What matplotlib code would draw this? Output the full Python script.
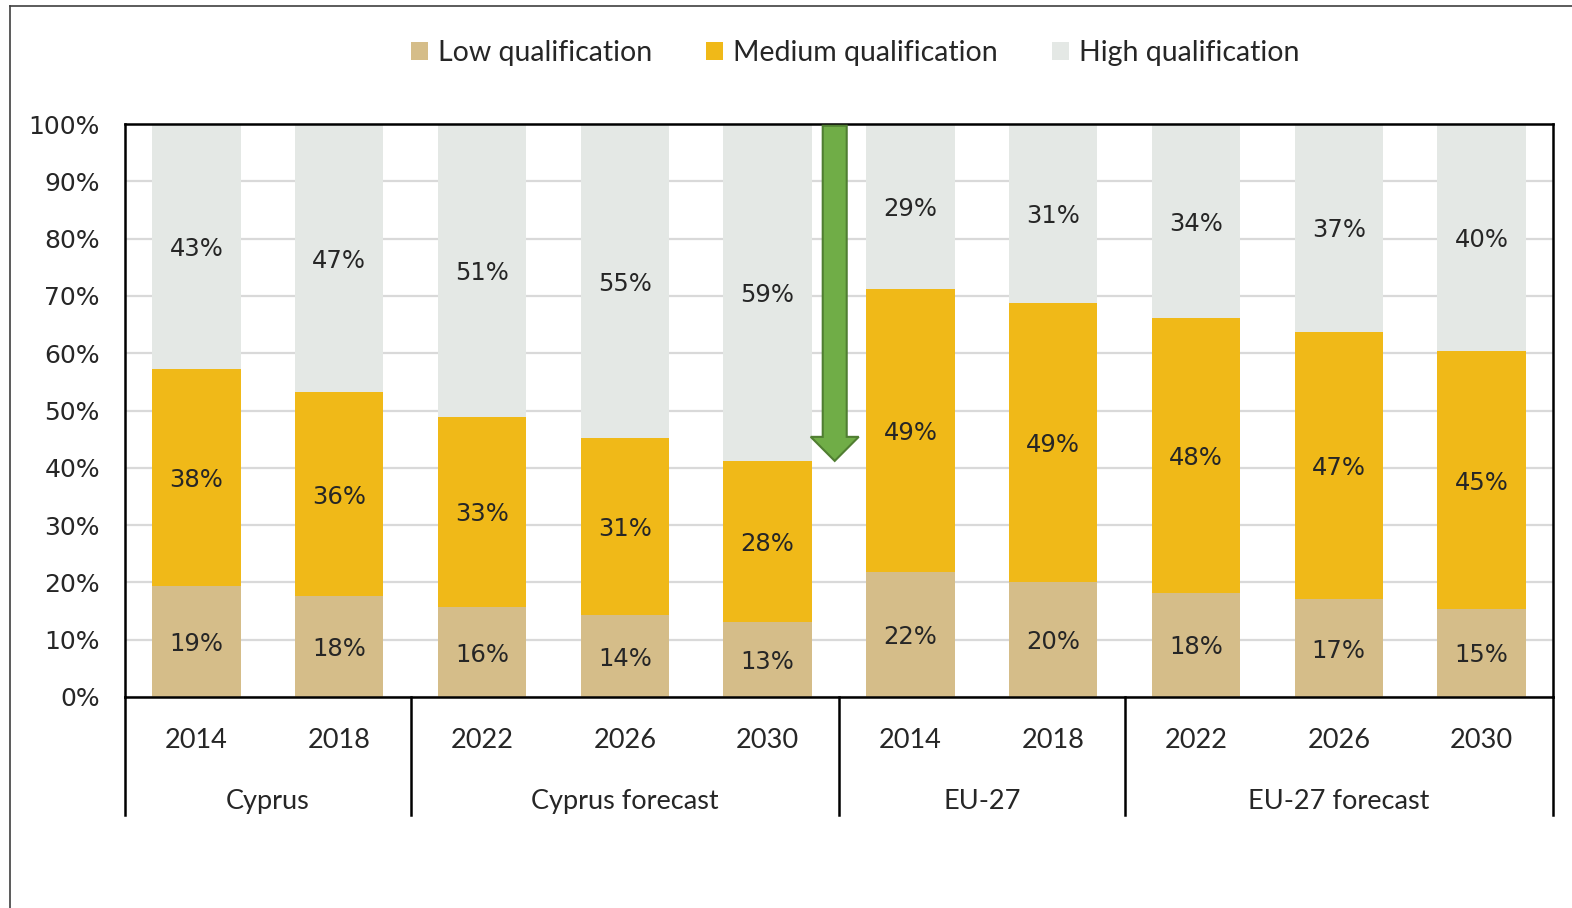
import matplotlib.pyplot as plt
from matplotlib.patches import FancyArrow
from matplotlib.lines import Line2D
import matplotlib.transforms as mtransforms

# data (shares in %)
years = ['2014', '2018', '2022', '2026', '2030', '2014', '2018', '2022', '2026', '2030']
groups = ['Cyprus', 'Cyprus forecast', 'EU-27', 'EU-27 forecast']
group_sizes = [2, 3, 2, 3]
low = [19.4, 17.6, 15.7, 14.3, 13.1, 21.8, 20.1, 18.2, 17.1, 15.4]
medium = [37.8, 35.6, 33.2, 30.9, 28.1, 49.4, 48.6, 47.9, 46.6, 44.9]
high = [42.8, 46.8, 51.1, 54.8, 58.8, 28.8, 31.3, 33.9, 36.6, 39.7]
series_names = ['Low qualification', 'Medium qualification', 'High qualification']
colors = ['#d5bd89', '#f0b918', '#e4e8e5']

fig = plt.figure(figsize=(15.72, 9.08), dpi=100)
ax = fig.add_axes([125 / 1572, 1 - 697 / 908, 1428 / 1572, 573 / 908])

x = list(range(len(years)))
bottoms = [0] * len(years)
for vals, name, col in zip([low, medium, high], series_names, colors):
    ax.bar(x, vals, bottom=bottoms, width=0.62, color=col, label=name, zorder=2)
    for xi, b, v in zip(x, bottoms, vals):
        ax.text(xi, b + v / 2, '%.0f%%' % v, ha='center', va='center_baseline',
                fontsize=17.5, color='#262626', zorder=3)
    bottoms = [b + v for b, v in zip(bottoms, vals)]

ax.set_xlim(-0.5, len(years) - 0.5)
ax.set_ylim(0, 100)
ax.set_yticks(range(0, 101, 10))
ax.set_yticklabels(['%d%%' % t for t in range(0, 101, 10)], fontsize=18, color='#262626')
ax.tick_params(axis='y', length=0, pad=18)
ax.set_xticks([])
ax.grid(axis='y', color='#d9d9d9', lw=1.6, zorder=0)
ax.set_axisbelow(True)
for s in ax.spines.values():
    s.set_linewidth(1.8)
    s.set_color('black')

# category axis: years, group names and separators below the plot
trans = mtransforms.blended_transform_factory(ax.transData, ax.transAxes)
for xi, y in zip(x, years):
    ax.text(xi, -0.076, y, transform=trans, ha='center', va='center',
            fontsize=19.5, family='Lato', color='#262626')
start = 0
seps = [-0.5]
for g, n in zip(groups, group_sizes):
    ax.text(start + (n - 1) / 2, -0.183, g, transform=trans, ha='center', va='center',
            fontsize=19.5, family='Lato', color='#262626')
    start += n
    seps.append(start - 0.5)
for s in seps:
    ax.add_line(Line2D([s, s], [0, -0.206], transform=trans, color='black',
                       lw=1.8, clip_on=False))

# green arrow showing the drop of medium qualification in Cyprus
tip = low[4] + medium[4]
arrow_x = 4.47
ax.add_patch(FancyArrow(arrow_x, 99.7, 0, -(99.7 - tip), width=0.168, head_width=0.336,
                        head_length=4.2, length_includes_head=True,
                        facecolor='#70ad47', edgecolor='#507e32', lw=1.5,
                        zorder=4, clip_on=False))

fig.legend(loc='center', bbox_to_anchor=(855 / 1572, 1 - 53 / 908), ncol=3,
           frameon=False, prop={'family': 'Lato', 'size': 20.5},
           handlelength=0.6, handleheight=0.6, handletextpad=0.35,
           columnspacing=1.9, labelcolor='#262626')

# outer chart frame (top and left edges visible)
fig.add_artist(Line2D([10 / 1572, 1], [1 - 6 / 908, 1 - 6 / 908],
                      transform=fig.transFigure, color='#404040', lw=1.2))
fig.add_artist(Line2D([10 / 1572, 10 / 1572], [0, 1 - 6 / 908],
                      transform=fig.transFigure, color='#404040', lw=1.2))

fig.savefig('out.png', dpi=100)
